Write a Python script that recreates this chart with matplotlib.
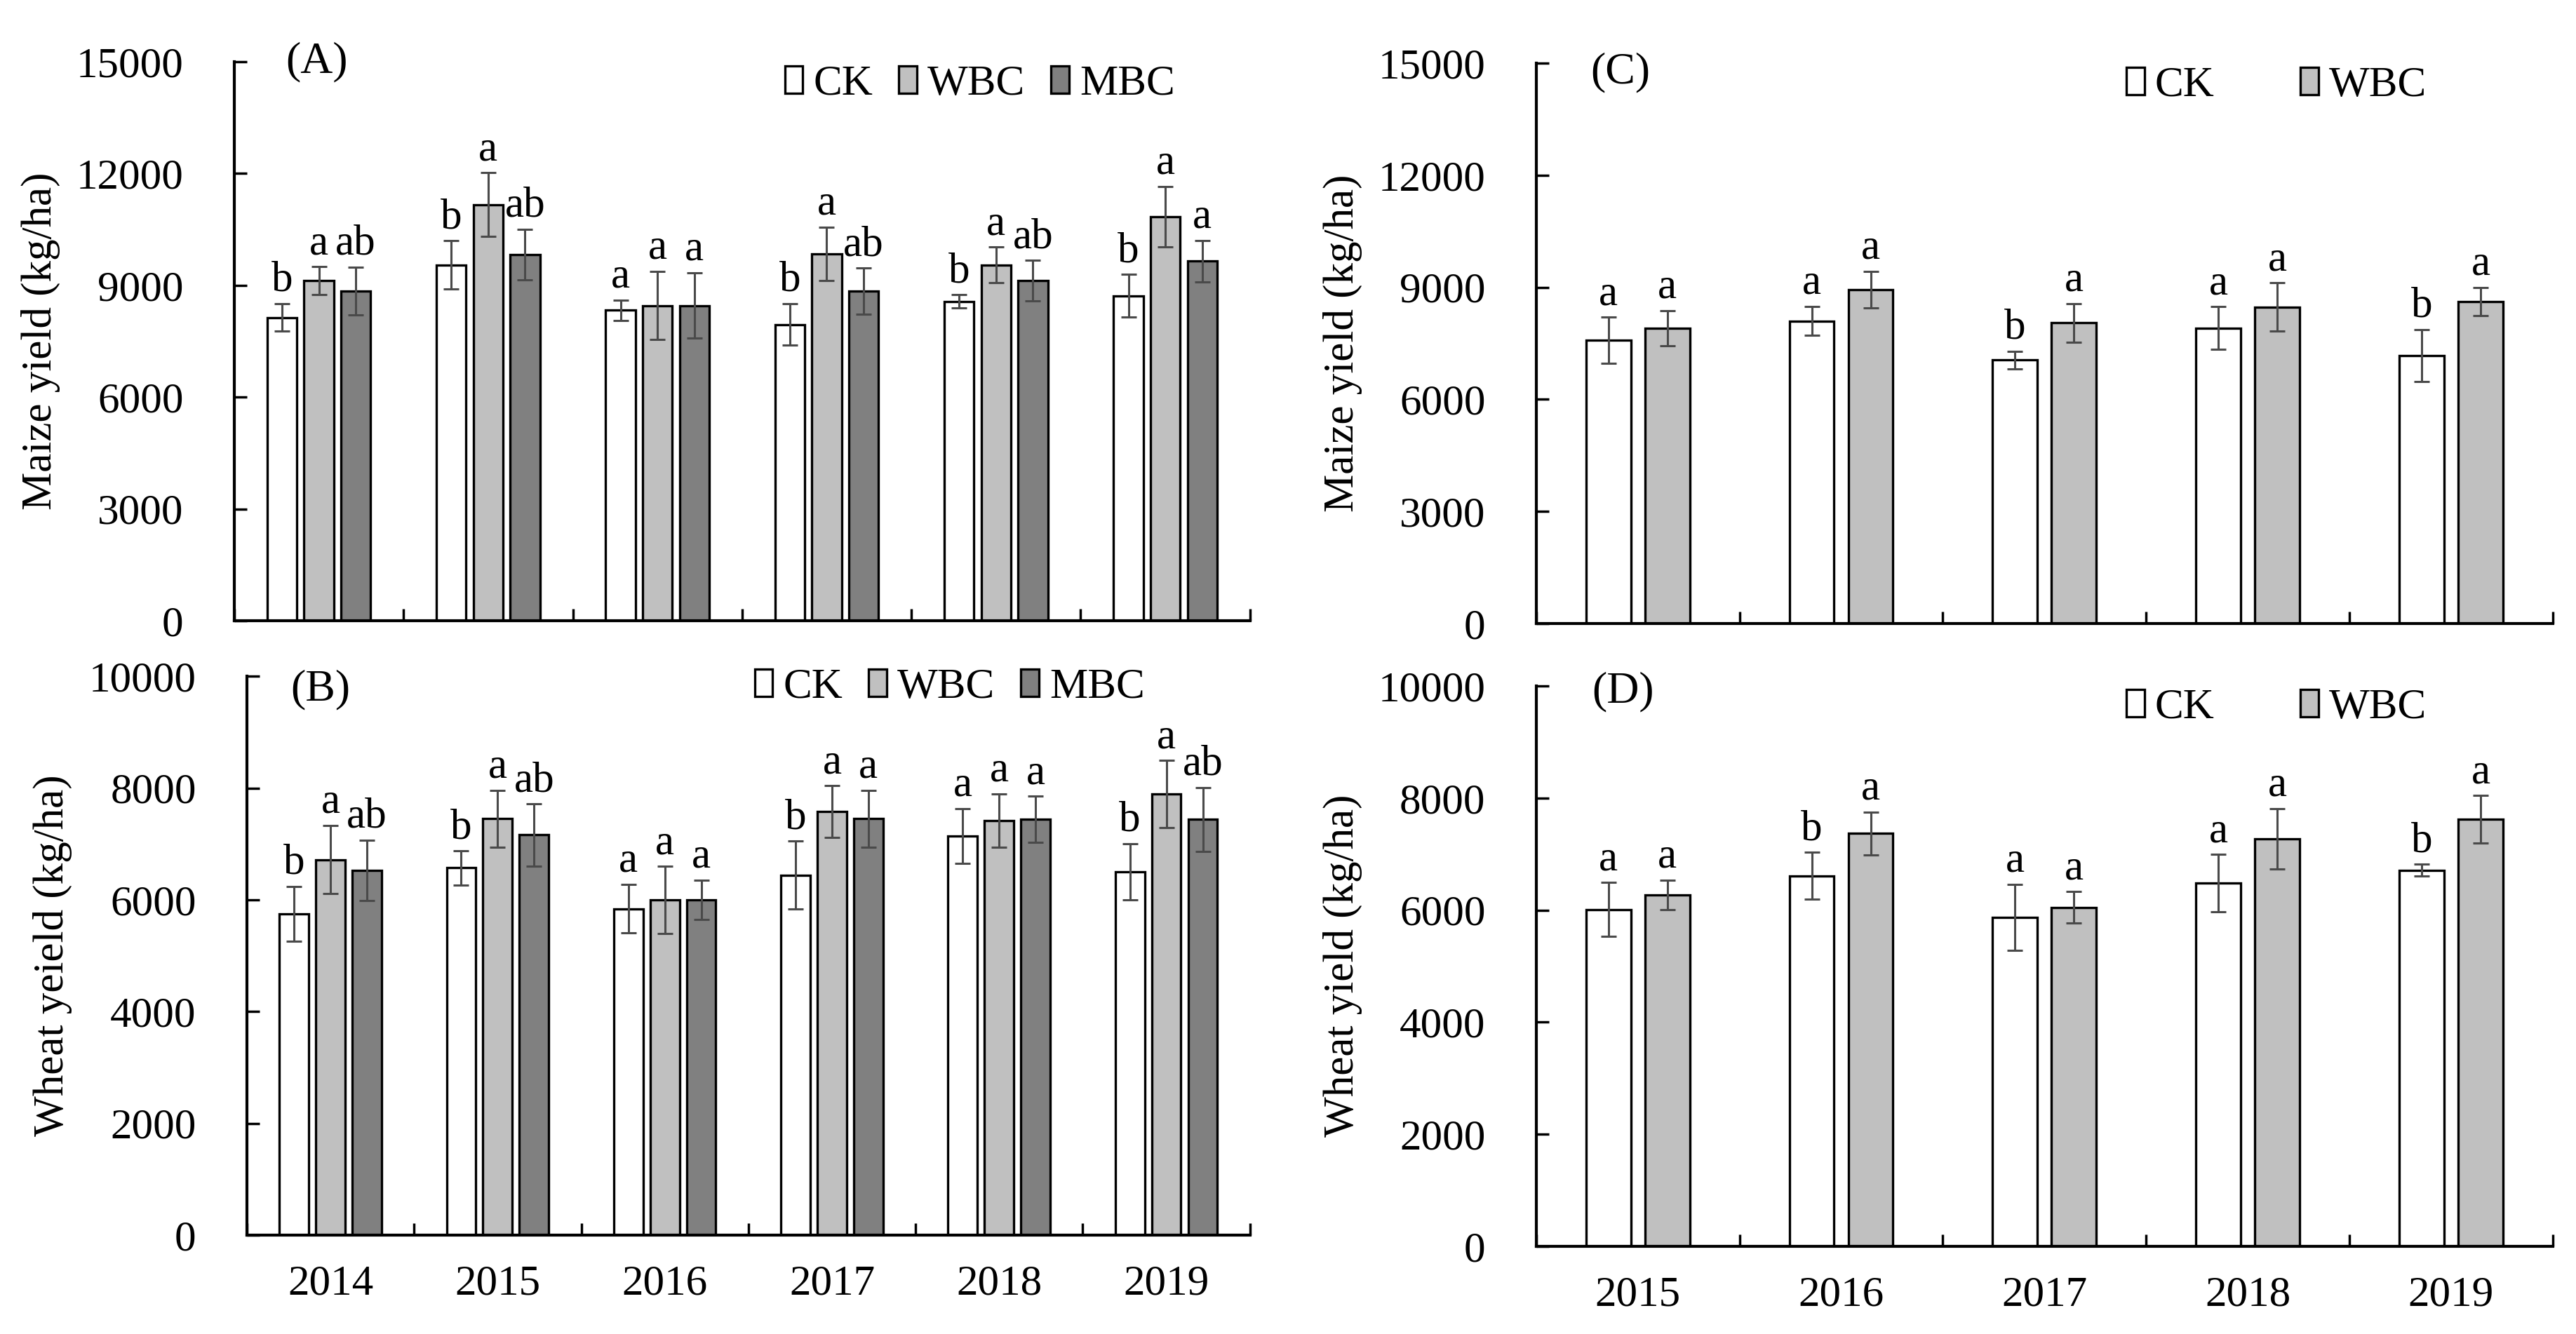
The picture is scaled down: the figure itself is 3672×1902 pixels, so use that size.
import matplotlib
matplotlib.use('Agg')
import matplotlib.pyplot as plt
import numpy as np

plt.rcParams['font.family'] = ['Liberation Serif', 'DejaVu Serif']
FS = 44

# ---- data ----
years_ab = ['2014', '2015', '2016', '2017', '2018', '2019']
years_cd = ['2015', '2016', '2017', '2018', '2019']

# (A) maize, CK / WBC / MBC
maize_ab_ck = [8140, 9550, 8330, 7950, 8570, 8720]
maize_ab_ck_err = [370, 650, 280, 560, 180, 570]
maize_ab_wbc = [9130, 11170, 8460, 9840, 9550, 10840]
maize_ab_wbc_err = [370, 850, 920, 720, 480, 815]
maize_ab_mbc = [8850, 9830, 8460, 8840, 9130, 9650]
maize_ab_mbc_err = [640, 680, 880, 620, 540, 560]
let_a_ck = ['b', 'b', 'a', 'b', 'b', 'b']
let_a_wbc = ['a', 'a', 'a', 'a', 'a', 'a']
let_a_mbc = ['ab', 'ab', 'a', 'ab', 'ab', 'a']

# (B) wheat, CK / WBC / MBC
wheat_ab_ck = [5750, 6570, 5840, 6440, 7140, 6500]
wheat_ab_ck_err = [490, 305, 435, 610, 490, 505]
wheat_ab_wbc = [6720, 7450, 6000, 7580, 7420, 7890]
wheat_ab_wbc_err = [610, 510, 600, 460, 475, 600]
wheat_ab_mbc = [6530, 7160, 6000, 7450, 7440, 7440]
wheat_ab_mbc_err = [540, 555, 355, 510, 410, 570]
let_b_ck = ['b', 'b', 'a', 'b', 'a', 'b']
let_b_wbc = ['a', 'a', 'a', 'a', 'a', 'a']
let_b_mbc = ['ab', 'ab', 'a', 'a', 'a', 'ab']

# (C) maize, CK / WBC
maize_cd_ck = [7580, 8100, 7050, 7910, 7170]
maize_cd_ck_err = [620, 390, 240, 570, 700]
maize_cd_wbc = [7910, 8940, 8050, 8470, 8620]
maize_cd_wbc_err = [470, 490, 515, 650, 380]
let_c_ck = ['a', 'a', 'b', 'a', 'b']
let_c_wbc = ['a', 'a', 'a', 'a', 'a']

# (D) wheat, CK / WBC
wheat_cd_ck = [6010, 6610, 5870, 6480, 6710]
wheat_cd_ck_err = [480, 420, 590, 515, 105]
wheat_cd_wbc = [6270, 7370, 6050, 7270, 7620]
wheat_cd_wbc_err = [265, 380, 280, 540, 425]
let_d_ck = ['a', 'b', 'a', 'a', 'b']
let_d_wbc = ['a', 'a', 'a', 'a', 'a']

names = ['CK', 'WBC', 'MBC']
colors = ['white', '#c0c0c0', '#808080']

fig = plt.figure(figsize=(36.73, 19.02), dpi=100)
axA = fig.add_axes([0.0909, 0.5347, 0.3942, 0.4190])
axB = fig.add_axes([0.0958, 0.0741, 0.3893, 0.4190])
axC = fig.add_axes([0.5962, 0.5326, 0.3945, 0.4201])
axD = fig.add_axes([0.5962, 0.0657, 0.3945, 0.4201])


def panel(ax, years, vals, errs, letters, width, offs, ymax, ystep, show_x):
    x = np.arange(len(years))
    for i in range(len(vals)):
        ax.bar(x + offs[i], vals[i], width, yerr=errs[i], color=colors[i],
               edgecolor='black', linewidth=2.4, label=names[i],
               error_kw=dict(ecolor='#4a4a4a', elinewidth=2.2, capsize=8, capthick=2.2))
        for j in range(len(years)):
            ax.annotate(letters[i][j], (x[j] + offs[i], vals[i][j] + errs[i][j]),
                        xytext=(0, 13), textcoords='offset points',
                        ha='center', va='baseline', fontsize=FS)
    ax.set_xlim(-0.5, len(years) - 0.5)
    ax.set_ylim(0, ymax)
    ax.set_yticks(np.arange(0, ymax + 1, ystep))
    ax.set_xticks(x)
    ax.set_xticklabels(years if show_x else [])
    ax.set_xticks(np.arange(-0.5, len(years)), minor=True)
    ax.tick_params(axis='x', which='major', length=0, pad=30, labelsize=FS)
    ax.tick_params(axis='x', which='minor', direction='in', length=12, width=2.5)
    ax.tick_params(axis='y', direction='in', length=13, width=2.5, pad=52, labelsize=FS)
    for s in ['top', 'right']:
        ax.spines[s].set_visible(False)
    for s in ['left', 'bottom']:
        ax.spines[s].set_linewidth(3)


panel(axA, years_ab, [maize_ab_ck, maize_ab_wbc, maize_ab_mbc],
      [maize_ab_ck_err, maize_ab_wbc_err, maize_ab_mbc_err],
      [let_a_ck, let_a_wbc, let_a_mbc], 0.175, [-0.218, 0, 0.218], 15000, 3000, False)
panel(axB, years_ab, [wheat_ab_ck, wheat_ab_wbc, wheat_ab_mbc],
      [wheat_ab_ck_err, wheat_ab_wbc_err, wheat_ab_mbc_err],
      [let_b_ck, let_b_wbc, let_b_mbc], 0.175, [-0.218, 0, 0.218], 10000, 2000, True)
panel(axC, years_cd, [maize_cd_ck, maize_cd_wbc], [maize_cd_ck_err, maize_cd_wbc_err],
      [let_c_ck, let_c_wbc], 0.22, [-0.145, 0.145], 15000, 3000, False)
panel(axD, years_cd, [wheat_cd_ck, wheat_cd_wbc], [wheat_cd_ck_err, wheat_cd_wbc_err],
      [let_d_ck, let_d_wbc], 0.22, [-0.145, 0.145], 10000, 2000, True)

leg_kw = dict(frameon=False, loc='center right', fontsize=FS, handlelength=0.42,
              handleheight=0.6, handletextpad=0.25, borderpad=0, borderaxespad=0)
axA.legend(ncol=3, columnspacing=0.6, bbox_to_anchor=(0.926, 0.96), **leg_kw)
axB.legend(ncol=3, columnspacing=0.6, bbox_to_anchor=(0.895, 0.98), **leg_kw)
axC.legend(ncol=2, columnspacing=2.0, bbox_to_anchor=(0.876, 0.96), **leg_kw)
axD.legend(ncol=2, columnspacing=2.0, bbox_to_anchor=(0.876, 0.961), **leg_kw)

axA.text(0.0815, 1.0, '(A)', transform=axA.transAxes, ha='center', va='center', fontsize=FS + 2)
axB.text(0.073, 0.976, '(B)', transform=axB.transAxes, ha='center', va='center', fontsize=FS + 2)
axC.text(0.083, 0.983, '(C)', transform=axC.transAxes, ha='center', va='center', fontsize=FS + 2)
axD.text(0.085, 0.989, '(D)', transform=axD.transAxes, ha='center', va='center', fontsize=FS + 2)

fig.text(0.0158, 0.7445, 'Maize yield (kg/ha)', rotation=90, ha='center', va='center', fontsize=FS)
fig.text(0.0204, 0.2839, 'Wheat yeield (kg/ha)', rotation=90, ha='center', va='center', fontsize=FS)
fig.text(0.5211, 0.743, 'Maize yield (kg/ha)', rotation=90, ha='center', va='center', fontsize=FS)
fig.text(0.5211, 0.276, 'Wheat yield (kg/ha)', rotation=90, ha='center', va='center', fontsize=FS)

fig.savefig('out.png', dpi=100)
